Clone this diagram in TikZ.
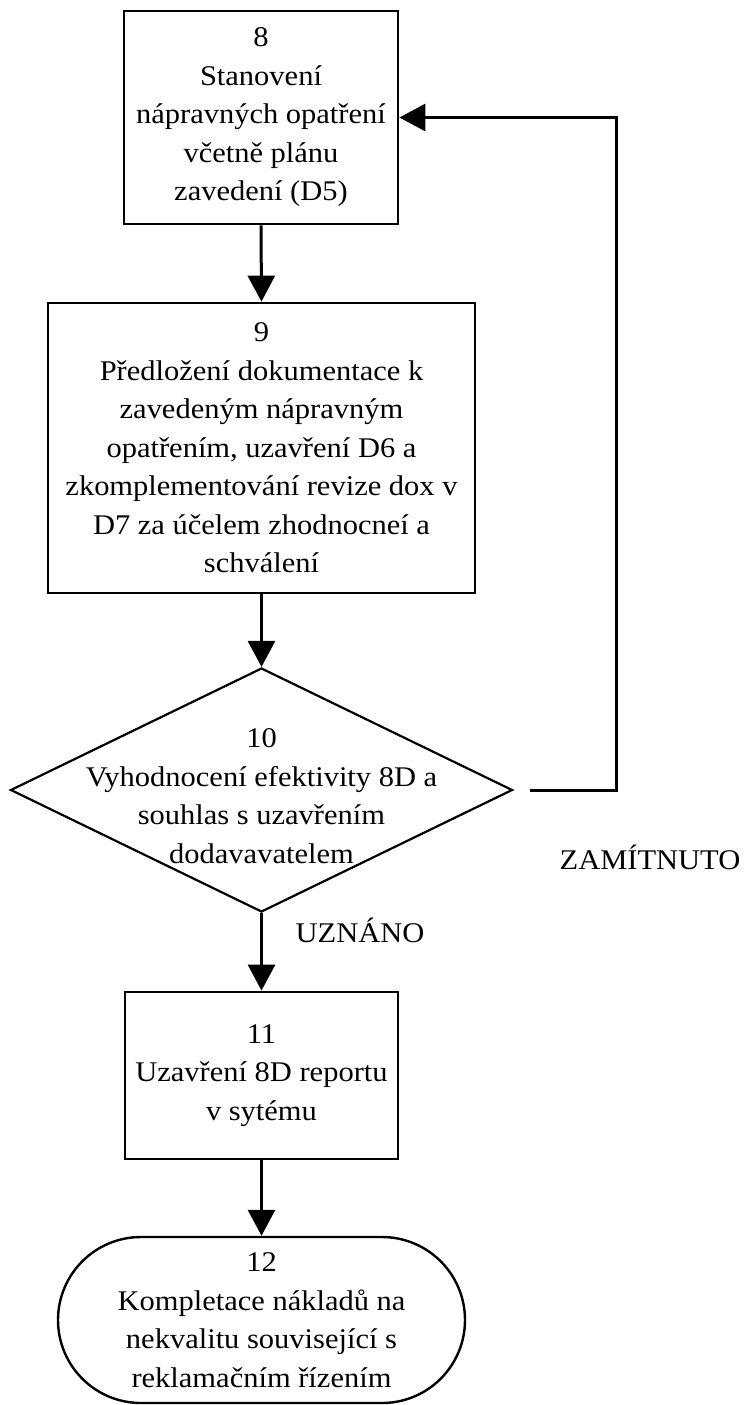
\documentclass[tikz,border=0pt]{standalone}
\usepackage{fontspec}
\setmainfont{Liberation Serif}[FakeStretch=1.07]
\usetikzlibrary{positioning}
\usetikzlibrary{shapes.geometric}
\usetikzlibrary{arrows.meta}

\tikzset{
  txt/.style={font=\fontsize{28.5}{38.5}\selectfont, align=center, inner sep=0pt},
  stepbox/.style={txt, draw, rectangle, line width=2.8pt},
  decide/.style={draw, diamond, line width=2.2pt, inner sep=0pt},
  ending/.style={txt, draw, rectangle, rounded corners=83pt, line width=2.4pt},
  flow/.style={line width=3pt, -{Triangle[length=26pt,width=27pt]}}
}

\begin{document}
\begin{tikzpicture}[x=1pt, y=-1pt]
%frame
\useasboundingbox (0,0) rectangle (754,1405);
%steps
\node[stepbox, minimum width=274pt, minimum height=213pt] (s8) at (261,117.5) {8\\Stanovení\\nápravných opatření\\včetně plánu\\zavedení (D5)};
\node[stepbox, minimum width=427pt, minimum height=290pt] (s9) at (261.5,448) {9\\Předložení dokumentace k\\zavedeným nápravným\\opatřením, uzavření D6 a\\zkomplementování revize dox v\\D7 za účelem zhodnocneí a\\schválení};
%decision
\node[decide, minimum width=502pt, minimum height=244pt] (d10) at (261.5,790) {};
\node[txt] (d10t) at (261.5,796) {10\\Vyhodnocení efektivity 8D a\\souhlas s uzavřením\\dodavavatelem};
\node[stepbox, minimum width=273pt, minimum height=167pt] (s11) at (261.5,1075.5) {11\\Uzavření 8D reportu\\v sytému};
%end
\node[ending, minimum width=407pt, minimum height=166pt] (e12) at (261.5,1320) {12\\Kompletace nákladů na\\nekvalitu související s\\reklamačním řízením};
%labels
\node[txt] (yes) at (360,930) {UZNÁNO};
\node[txt] (no) at (650,857) {ZAMÍTNUTO};
%arrows
\draw[flow] (s8.south) -- (s9.north);
\draw[flow] (s9.south) -- (d10.north);
\draw[flow] (d10.south) -- (s11.north);
\draw[flow] (s11.south) -- (e12.north);
%back loop
\coordinate (back) at ([xshift=16pt]d10.east);
\coordinate (turn) at (616,117.5);
\draw[flow] (back) -| (turn) -- (s8.east);
\end{tikzpicture}
\end{document}
